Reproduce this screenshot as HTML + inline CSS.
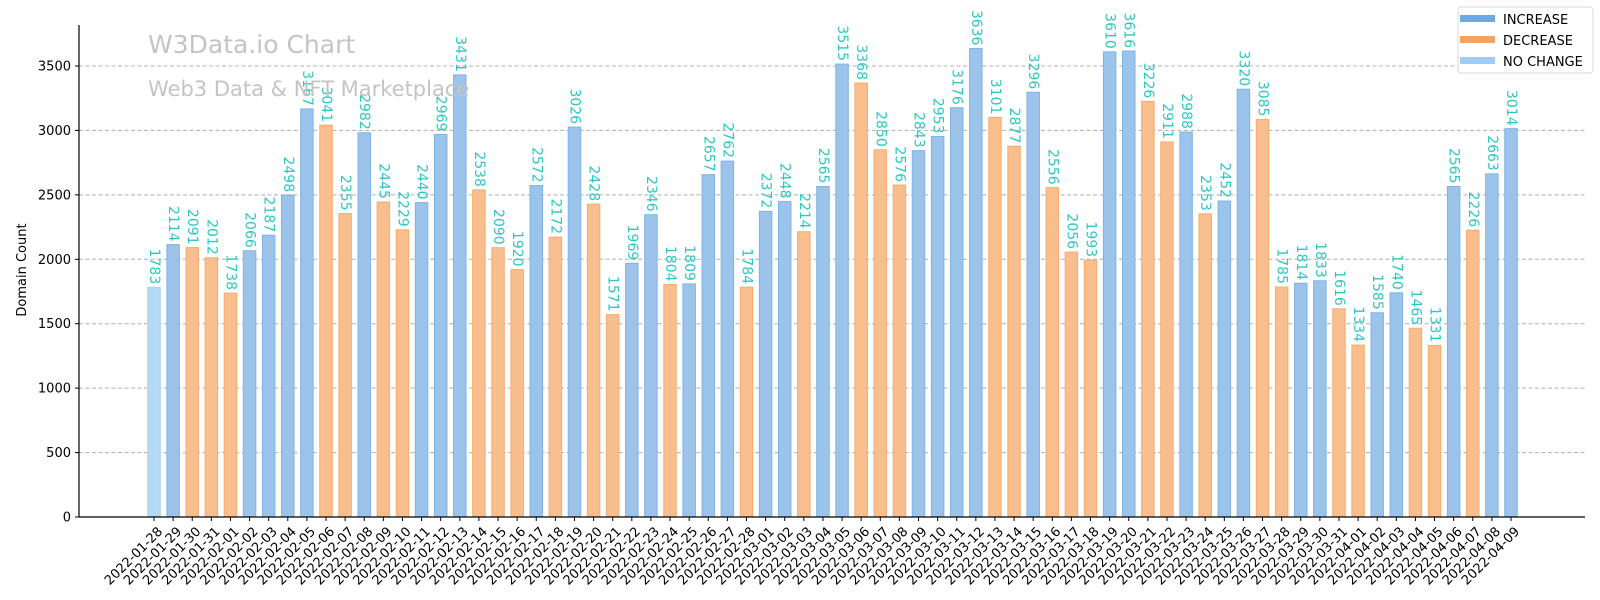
<!DOCTYPE html>
<html><head><meta charset="utf-8"><style>
html,body{margin:0;padding:0;background:#fff;}
svg{display:block;font-family:"DejaVu Sans","Liberation Sans",sans-serif;}
</style></head><body>
<svg id="chart" width="1600" height="600" viewBox="0 0 1600 600">
<g id="grid"></g>
<g id="bars"></g>
<g id="labels"></g>
<g id="axes"></g>
<text x="148" y="53" font-size="25" fill="#c4c4c4">W3Data.io Chart</text>
<text x="148" y="96" font-size="21" fill="#c4c4c4">Web3 Data &amp; NFT Marketplace</text>
<text transform="translate(26,270) rotate(-90)" text-anchor="middle" font-size="13" fill="#000">Domain Count</text>
<g>
<rect x="1458" y="7" width="135" height="66" rx="3" fill="#fff" stroke="#d8d8d8"/>
<g><rect x="1460" y="15" width="35" height="7" fill="#6fa8e0"/><text x="1503" y="24" font-size="13">INCREASE</text></g>
<g><rect x="1460" y="36" width="35" height="7" fill="#f4a460"/><text x="1503" y="45" font-size="13">DECREASE</text></g>
<g><rect x="1460" y="57" width="35" height="7" fill="#9fcdf5"/><text x="1503" y="66" font-size="13">NO CHANGE</text></g>
</g>
</svg>
<script>
const dates = ["2022-01-28","2022-01-29","2022-01-30","2022-01-31","2022-02-01","2022-02-02","2022-02-03","2022-02-04","2022-02-05","2022-02-06","2022-02-07","2022-02-08","2022-02-09","2022-02-10","2022-02-11","2022-02-12","2022-02-13","2022-02-14","2022-02-15","2022-02-16","2022-02-17","2022-02-18","2022-02-19","2022-02-20","2022-02-21","2022-02-22","2022-02-23","2022-02-24","2022-02-25","2022-02-26","2022-02-27","2022-02-28","2022-03-01","2022-03-02","2022-03-03","2022-03-04","2022-03-05","2022-03-06","2022-03-07","2022-03-08","2022-03-09","2022-03-10","2022-03-11","2022-03-12","2022-03-13","2022-03-14","2022-03-15","2022-03-16","2022-03-17","2022-03-18","2022-03-19","2022-03-20","2022-03-21","2022-03-22","2022-03-23","2022-03-24","2022-03-25","2022-03-26","2022-03-27","2022-03-28","2022-03-29","2022-03-30","2022-03-31","2022-04-01","2022-04-02","2022-04-03","2022-04-04","2022-04-05","2022-04-06","2022-04-07","2022-04-08","2022-04-09"];
const counts = [1783,2114,2091,2012,1738,2066,2187,2498,3167,3041,2355,2982,2445,2229,2440,2969,3431,2538,2090,1920,2572,2172,3026,2428,1571,1969,2346,1804,1809,2657,2762,1784,2372,2448,2214,2565,3515,3368,2850,2576,2843,2953,3176,3636,3101,2877,3296,2556,2056,1993,3610,3616,3226,2911,2988,2353,2452,3320,3085,1785,1814,1833,1616,1334,1585,1740,1465,1331,2565,2226,2663,3014];
const yTicks = [0,500,1000,1500,2000,2500,3000,3500];

const NS="http://www.w3.org/2000/svg";
const L=79,R=1585,B=517,T=25;
const x0=154,x1=1511;
const yScale=v=>B-(v/3500)*(B-66);
const xScale=i=>x0+i*(x1-x0)/(dates.length-1);
function mk(tag,attrs,parent){const e=document.createElementNS(NS,tag);for(const k in attrs)e.setAttribute(k,attrs[k]);parent.appendChild(e);return e;}
const grid=document.getElementById('grid'),bars=document.getElementById('bars'),labels=document.getElementById('labels'),axes=document.getElementById('axes');
yTicks.forEach(v=>{
  const y=yScale(v);
  if(v>0){const g=mk('line',{x1:L,x2:R,y1:y,y2:y,stroke:'#b0b0b0','stroke-dasharray':'4,2.5','stroke-width':1},grid);
  
  }
  const tk=mk('line',{x1:L-4,x2:L,y1:y,y2:y,stroke:'#000'},axes);
  
  
  const t=mk('text',{x:L-8,y:y+4.5,'text-anchor':'end','font-size':13},axes);
  t.textContent=v;
  
  
});
const bw=12.5;
counts.forEach((v,i)=>{
  const x=xScale(i),y=yScale(v);
  let fill='#b3d9f5',stroke='#a6d2f5';
  if(i>0){ if(v>counts[i-1]){fill='#9cc3ea';stroke='#7fb3e6';} else if(v<counts[i-1]){fill='#f8be8e';stroke='#f5ad70';} }
  const r=mk('rect',{x:x-bw/2,y:y,width:bw,height:B-y,fill:fill,stroke:stroke,'stroke-width':1},bars);
  
  
  const t=mk('text',{transform:`translate(${x},${y-3}) rotate(90)`,'text-anchor':'end','dominant-baseline':'central','font-size':14,fill:'#2ec8c4'},labels);
  t.textContent=v;
  
  
  const tk=mk('line',{x1:x,x2:x,y1:B,y2:B+4,stroke:'#000'},axes);
  
  
  const xl=mk('text',{transform:`translate(${x+3},${B+9}) rotate(-45)`,'text-anchor':'end','dominant-baseline':'hanging','font-size':13},axes);
  xl.textContent=dates[i];
  
  
});
const ya=mk('line',{x1:L,x2:L,y1:T,y2:B,stroke:'#000','stroke-width':1.2},axes);


const xa=mk('line',{x1:L,x2:R,y1:B,y2:B,stroke:'#000','stroke-width':1.2},axes);


</script>
</body></html>
